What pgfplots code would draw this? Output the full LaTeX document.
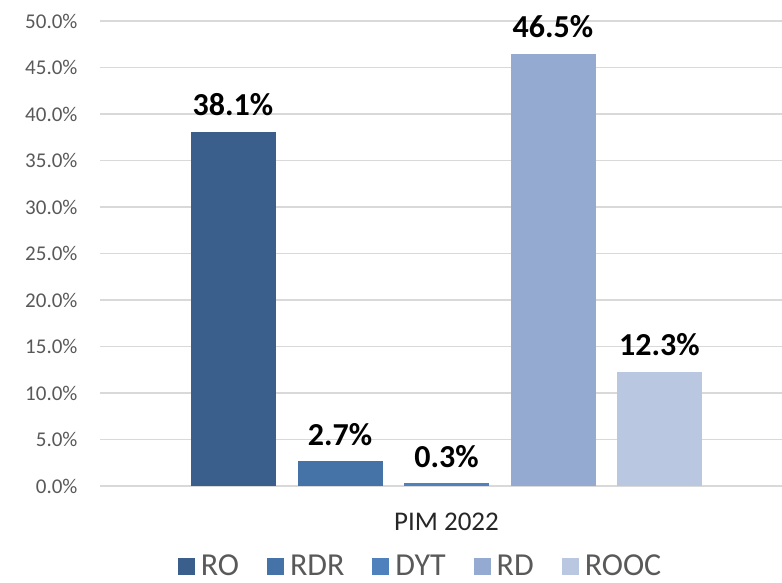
\documentclass[border=0pt]{standalone}
\usepackage{pgfplots}
\pgfplotsset{compat=1.18}
\usepackage{fontspec}
\setmainfont{Carlito}
\definecolor{cRO}{HTML}{3A5F8C}
\definecolor{cRDR}{HTML}{4573A8}
\definecolor{cDYT}{HTML}{4F81BD}
\definecolor{cRD}{HTML}{95AAD1}
\definecolor{cROOC}{HTML}{BAC7E0}
\definecolor{tickgray}{HTML}{595959}
\definecolor{gridgray}{HTML}{D9D9D9}
\begin{document}
\begin{tikzpicture}
\path[use as bounding box] (0,0) rectangle (782bp,583bp);
\begin{axis}[
  at={(100bp,97bp)}, anchor=south west,
  scale only axis, width=682bp, height=465bp,
  xmin=100, xmax=782, ymin=0, ymax=50,
  clip=false,
  axis line style={draw=none},
  ytick={0,5,...,50},
  ymajorgrids, grid style={gridgray, line width=1.2pt},
  major tick length=0pt,
  yticklabel={\pgfmathprintnumber[fixed,fixed zerofill,precision=1]{\tick}\%},
  /pgf/number format/assume math mode=true,
  yticklabel style={font=\fontsize{21bp}{24bp}\selectfont, text=tickgray, anchor=east, xshift=-19bp},
  xtick={446.5}, xticklabels={PIM 2022},
  xticklabel style={font=\fontsize{27bp}{30bp}\selectfont, text=black!85, anchor=center, yshift=-36bp},
  ybar, bar width=85bp, bar shift=0pt,
  nodes near coords={\pgfmathprintnumber[fixed,fixed zerofill,precision=1]{\pgfplotspointmeta}\%},
  nodes near coords style={font=\bfseries\fontsize{32bp}{34bp}\selectfont, text=black, anchor=south, yshift=12bp},
  legend style={draw=none, fill=none, at={(0.470,-0.172)}, anchor=center,
    inner sep=0pt, outer sep=0pt,
    font=\fontsize{32bp}{34bp}\selectfont, text=tickgray,
    /tikz/every even column/.append style={column sep=26bp}},
  legend columns=-1,
  legend image code/.code={\fill[#1] (0bp,-9bp) rectangle (17bp,8bp); \path (21bp,0bp);},
]
\addplot[fill=cRO, draw=none] coordinates {(233,38.1)};
\addlegendentry{RO}
\addplot[fill=cRDR, draw=none] coordinates {(340,2.7)};
\addlegendentry{RDR}
\addplot[fill=cDYT, draw=none] coordinates {(446.5,0.3)};
\addlegendentry{DYT}
\addplot[fill=cRD, draw=none] coordinates {(553,46.5)};
\addlegendentry{RD}
\addplot[fill=cROOC, draw=none] coordinates {(659.5,12.3)};
\addlegendentry{ROOC}
\end{axis}
\end{tikzpicture}
\end{document}
